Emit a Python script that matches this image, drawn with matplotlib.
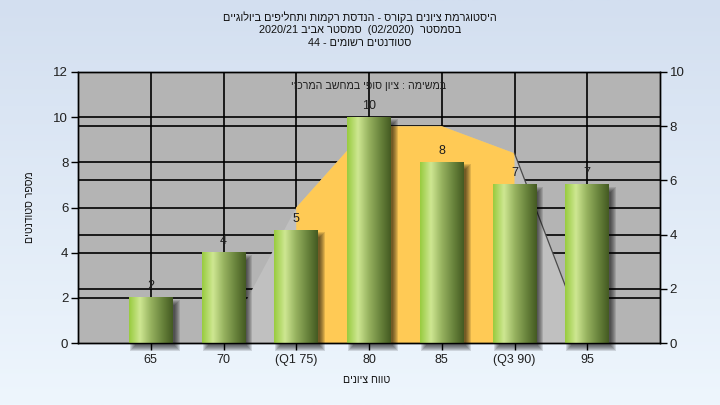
import re
import numpy as np
import matplotlib
matplotlib.use("Agg")
import matplotlib.pyplot as plt
import matplotlib.transforms as mtransforms
from matplotlib.patches import Rectangle

plt.rcParams["font.family"] = ["Liberation Sans", "DejaVu Sans"]

# ---- data -------------------------------------------------------------
categories = ["65", "70", "(Q1 75)", "80", "85", "(Q3 90)", "95"]
counts = [2, 4, 5, 10, 8, 7, 7]
# distribution curve, read against the right-hand scale
curve = [0, 0, 5, 8, 8, 7, 0]
q1_index, q3_index = 2, 5

left_ticks = [0, 2, 4, 6, 8, 10, 12]
right_ticks = [0, 2, 4, 6, 8, 10]

title_lines = [
    "היסטוגרמת ציונים בקורס - הנדסת רקמות ותחליפים ביולוגיים",
    "בסמסטר  (02/2020)  סמסטר אביב 2020/21",
    "סטודנטים רשומים - 44",
]
note = "במשימה : ציון סופי במחשב המרכזי"
x_title = "טווח ציונים"
y_title = "מספר סטודנטים"


def visual(s):
    """Put a right-to-left string into left-to-right drawing order."""
    out = s[::-1]
    out = re.sub(r"[0-9A-Za-z/.]+", lambda m: m.group(0)[::-1], out)
    return out.translate(str.maketrans("()", ")("))


W, H = 720, 405
fig = plt.figure(figsize=(W / 100, H / 100), dpi=100)

# soft blue page background
bg = fig.add_axes([0, 0, 1, 1], zorder=0)
t = np.linspace(0, 1, 256)[:, None, None]
c_top = np.array([211, 223, 240]) / 255
c_bot = np.array([238, 246, 253]) / 255
bg.imshow(c_top + (c_bot - c_top) * t, aspect="auto", extent=[0, 1, 0, 1])
bg.set_axis_off()

px_l, px_b, px_w, px_h = 78, 62, 582, 271
ax = fig.add_axes([px_l / W, px_b / H, px_w / W, px_h / H], zorder=1)
ax.set_facecolor("#b4b4b4")
ax2 = ax.twinx()
ax2.patch.set_visible(False)

x = np.arange(1, len(categories) + 1)
xmin, xmax = 0, len(categories) + 1
ax.set_xlim(xmin, xmax)
ax.set_ylim(0, 12)
ax2.set_ylim(0, 10)

dx = (xmax - xmin) / px_w      # one pixel in x data units
dy = 12 / px_h                 # one pixel in left-axis units

# grid lines
for xi in x:
    ax.axvline(xi, color="black", lw=1.2, zorder=1)
for v in left_ticks[1:-1]:
    ax.axhline(v, color="black", lw=1.2, zorder=1)
right_tr = mtransforms.blended_transform_factory(ax.transAxes, ax2.transData)
for v in right_ticks[1:-1]:
    ax.plot([0, 1], [v, v], transform=right_tr, color="black", lw=1.2, zorder=1)

# distribution area and the interquartile band
xs = list(x)
ax.fill([xs[0]] + xs + [xs[-1]], [0] + curve + [0], transform=ax2.transData,
        color="#c0c0c0", lw=0, zorder=2)
band_x = xs[q1_index:q3_index + 1]
band_y = curve[q1_index:q3_index + 1]
ax.fill([band_x[0]] + band_x + [band_x[-1]], [0] + band_y + [0],
        transform=ax2.transData, color="#ffca55", lw=0, zorder=2.2)
ax.plot(xs[q3_index:q3_index + 2], curve[q3_index:q3_index + 2],
        transform=ax2.transData, color="#4a4a4a", lw=0.9, zorder=2.4)

# cylinder-like bars
stops = [(0.0, (152, 203, 62)), (0.25, (206, 231, 146)), (0.5, (150, 178, 95)),
         (0.78, (102, 128, 58)), (1.0, (68, 90, 34))]
pos = np.linspace(0, 1, 200)
shade = np.stack([np.interp(pos, [s[0] for s in stops], [s[1][k] for s in stops])
                  for k in range(3)], axis=-1) / 255
bar_img = shade[None, :, :]
bw = 0.6
for xi, c in zip(x, counts):
    x0, x1 = xi - bw / 2, xi + bw / 2
    ox, oy = 4 * dx, 5 * dy
    for k in range(6):
        g = (k - 2)
        ax.add_patch(Rectangle((x0 + ox - g * dx, -oy - g * dy),
                               (x1 - x0) + 2 * g * dx, c + 2 * g * dy,
                               facecolor="black", alpha=0.12, lw=0,
                               zorder=3, clip_on=False))
    ax.imshow(bar_img, extent=[x0, x1, 0, c], aspect="auto",
              interpolation="bilinear", zorder=4)
    ax.annotate(str(c), (xi, c), xytext=(0, 4), textcoords="offset points",
                ha="center", va="bottom", fontsize=9, color="#1e1e1e", zorder=6)

ax.set_xlim(xmin, xmax)
ax.set_ylim(0, 12)

# axes styling
for a in (ax, ax2):
    for s in a.spines.values():
        s.set_color("black")
        s.set_linewidth(1.0)
ax.set_xticks(x, categories)
ax.set_yticks(left_ticks)
ax2.set_yticks(right_ticks)
ax.tick_params(axis="x", length=5, width=1, labelsize=9, pad=3, colors="black",
               labelcolor="#202020")
ax.tick_params(axis="y", length=5, width=1, labelsize=9.5, pad=2,
               labelcolor="#202020")
ax2.tick_params(axis="y", length=5, width=1, labelsize=9.5, pad=2,
                labelcolor="#202020")

ax.text(0.5, 0.948, visual(note), transform=ax.transAxes, ha="center",
        va="center", fontsize=7.7, color="#202020", zorder=7)

for i, line in enumerate(title_lines):
    fig.text(0.5, 1 - (17 + 13 * i) / H, visual(line), ha="center",
             va="center", fontsize=7.8, color="#111111")
fig.text(367 / W, 1 - 380 / H, visual(x_title), ha="center", va="center",
         fontsize=7.6, color="#111111")
fig.text(30 / W, 1 - 207 / H, visual(y_title), ha="center", va="center",
         rotation=90, fontsize=7.6, color="#111111")

fig.savefig("out.png", dpi=100)
